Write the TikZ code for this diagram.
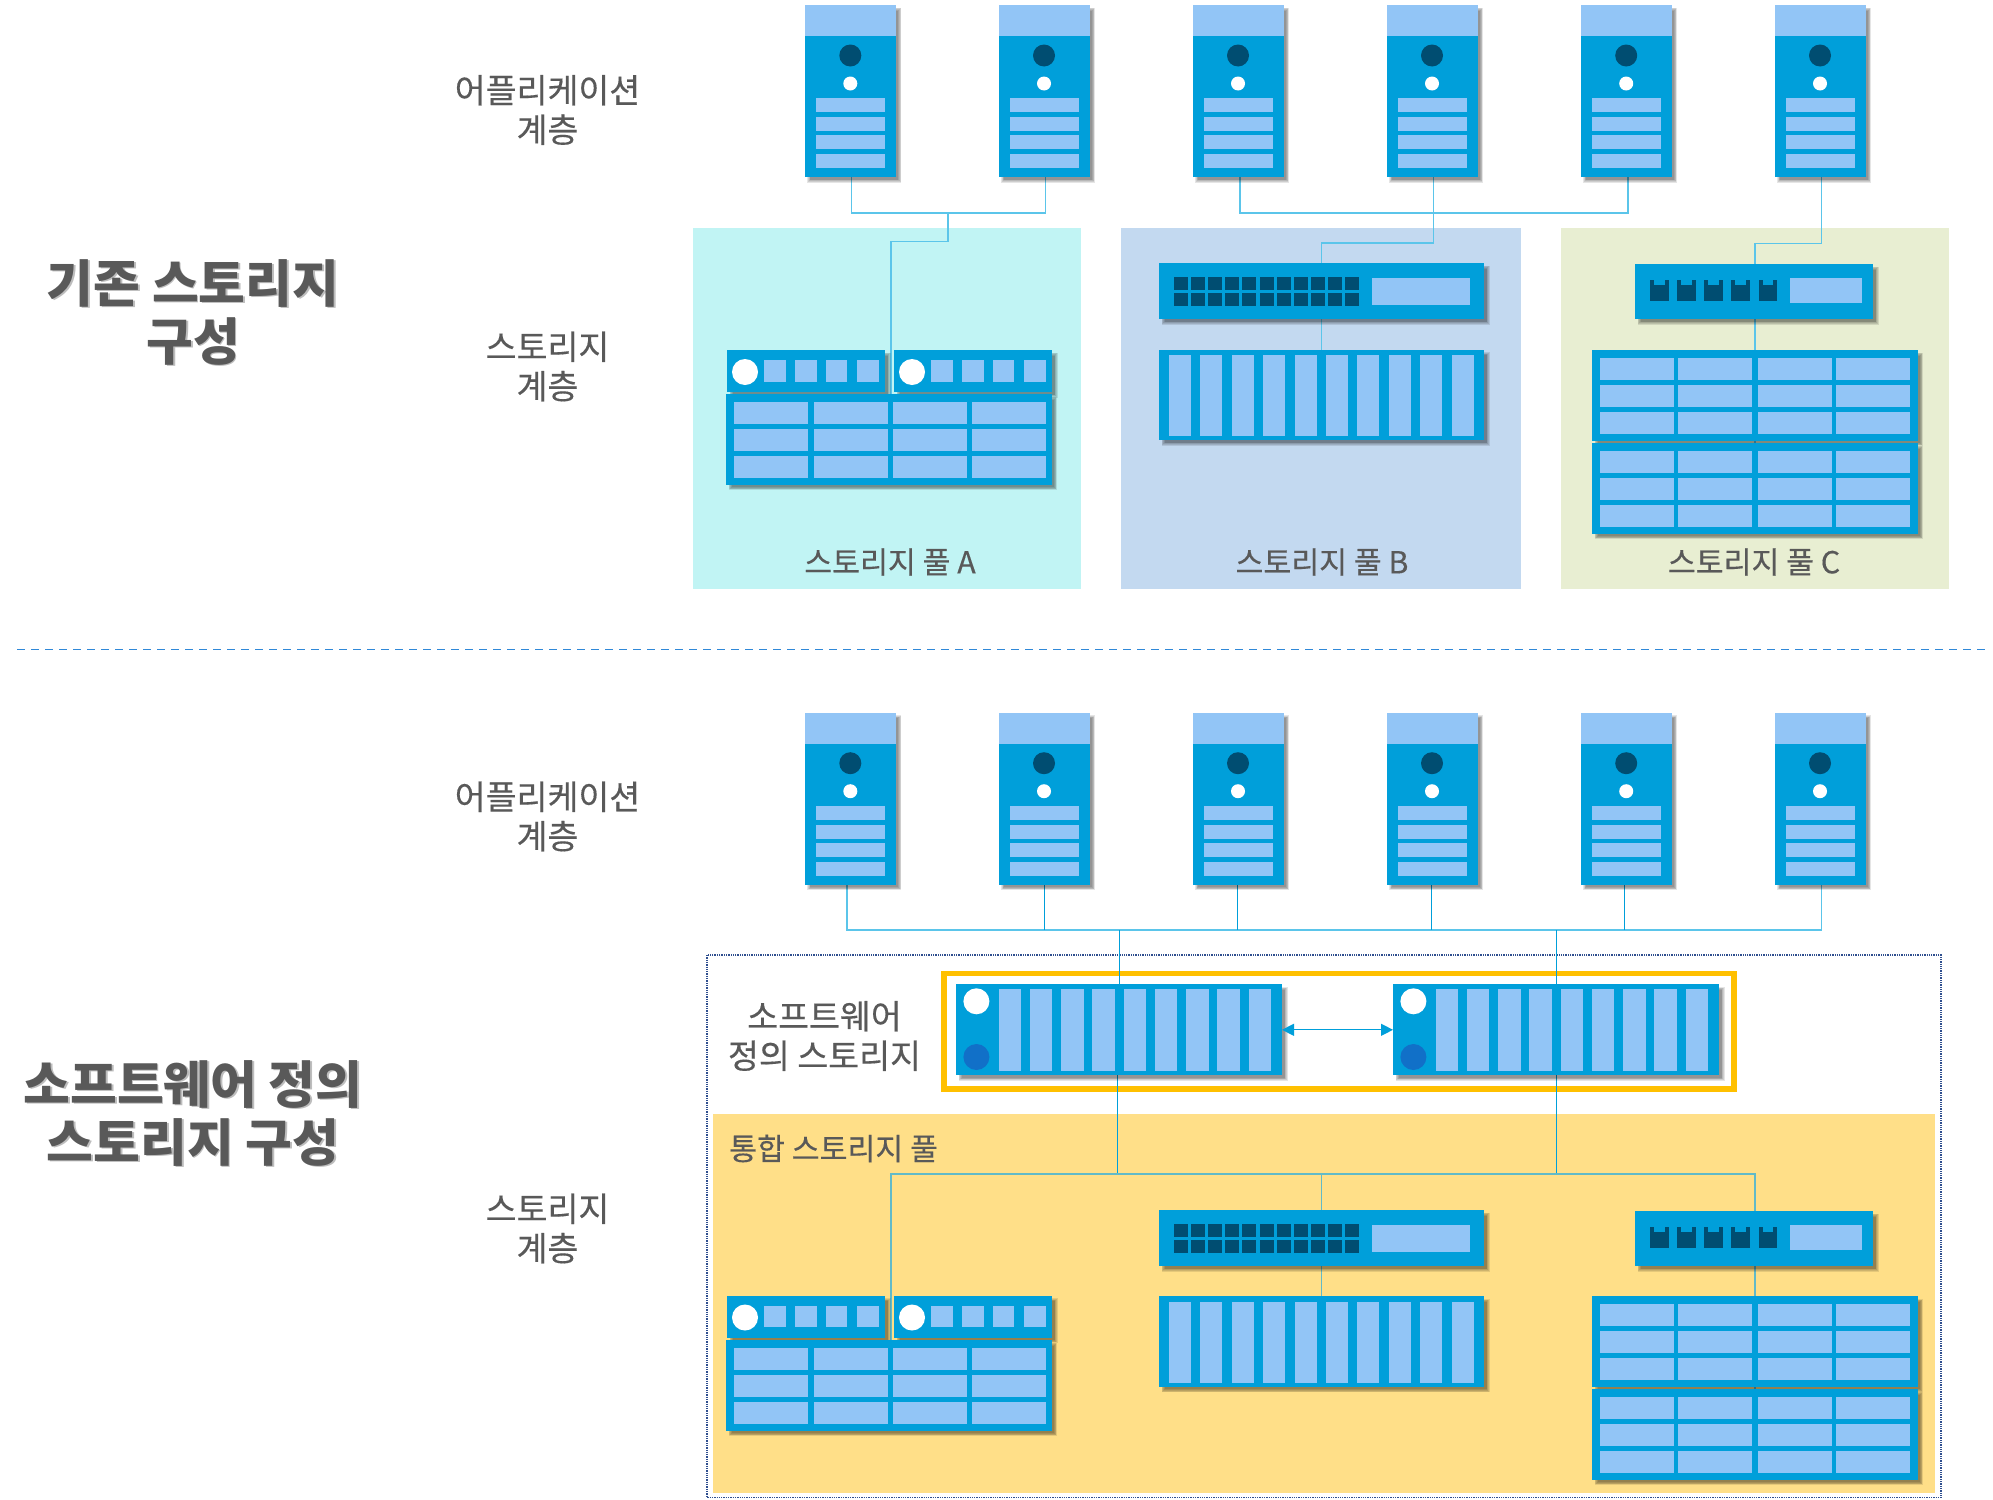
\documentclass[tikz,border=0pt]{standalone}
\usepackage{fontspec}
\setmainfont{Noto Sans CJK KR}
\newfontfamily\medfont{Noto Sans CJK KR}[FakeBold=0.35]
\usetikzlibrary{arrows.meta}
\definecolor{devblue}{HTML}{009FDA}
\definecolor{barblue}{HTML}{92C5F6}
\definecolor{darkport}{HTML}{004D71}
\definecolor{ledblue}{HTML}{1170C8}
\definecolor{poolA}{HTML}{C1F4F4}
\definecolor{poolB}{HTML}{C3D9F0}
\definecolor{poolC}{HTML}{E8EED2}
\definecolor{poolY}{HTML}{FFDF88}
\definecolor{frameY}{HTML}{FFC000}
\definecolor{txt}{HTML}{595959}
\definecolor{busc}{HTML}{5BC5EA}
\definecolor{busd}{HTML}{62BAC8}
\definecolor{framec}{HTML}{2F4F8F}
\definecolor{dashc}{HTML}{2F88D8}
\definecolor{shadegray}{HTML}{BDBDBD}
\newcommand{\shtext}[1]{\rlap{\kern1.8pt\raisebox{-1.8pt}{\textcolor{shadegray}{#1}}}#1}
\tikzset{
  devbox/.style={fill=devblue,draw=none,inner sep=0pt,outer sep=0pt,anchor=north west},
  pool/.style={draw=none,inner sep=0pt,outer sep=0pt,anchor=north west},
  lbl/.style={text=txt,align=center,inner sep=0pt,font=\fontsize{33.6}{39.5}\selectfont\medfont},
  plbl/.style={text=txt,inner sep=0pt,font=\fontsize{30.3}{36}\selectfont\medfont},
  ttl/.style={text=txt,align=center,inner sep=0pt,font=\fontsize{50.8}{58}\selectfont\bfseries},
  bus/.style={draw=busc,line width=1.5pt},
  busin/.style={draw=busd,line width=1.5pt},
  thin stem/.style={draw=devblue,line width=1pt},
  lt/.style={fill=barblue},
  dk/.style={fill=darkport},
}
% soft shadow of a W x H box at the scope origin
\newcommand{\softshadow}[2]{%
  \foreach \d in {1.5,0.75,0,-0.75,-1.5}{%
    \fill[black,opacity=.1] (4-\d,4-\d) rectangle (#1+4+\d,#2+4+\d);}}
\newcommand{\devnode}[3]{%
  \softshadow{#2}{#3}
  \node[devbox,minimum width=#2pt,minimum height=#3pt] (#1) at (0,0) {};}
\newcommand{\server}[3]{\begin{scope}[shift={(#2,#3)}]
  \devnode{#1}{91}{172}
  \fill[lt] (0,0) rectangle (91,31);
  \fill[dk] (45.5,50.5) circle (11);
  \fill[white] (45.5,78.5) circle (7);
  \foreach \y in {93,112,130,149}{\fill[lt] (11,\y) rectangle (80,\y+14);}
\end{scope}}
\newcommand{\cellgrid}[4]{\begin{scope}[shift={(#2,#3)}]
  \devnode{#1}{325.5}{90.5}
  \foreach \x in {#4}{\foreach \y in {7.5,35,62}{%
    \fill[lt] (\x,\y) rectangle (\x+74,\y+22);}}
\end{scope}}
\newcommand{\module}[3]{\begin{scope}[shift={(#2,#3)}]
  \devnode{#1}{158}{42}
  \fill[white] (18,22) circle (13);
  \foreach \x in {37,68,98.5,130}{\fill[lt] (\x,10) rectangle (\x+21.5,31.5);}
\end{scope}}
\newcommand{\bigswitch}[3]{\begin{scope}[shift={(#2,#3)}]
  \devnode{#1}{325}{56}
  \foreach \i in {0,...,10}{\foreach \y in {14,30}{%
    \fill[dk] (15+17.1*\i,\y) rectangle (29+17.1*\i,\y+13);}}
  \fill[lt] (213,15) rectangle (310.5,42);
\end{scope}}
\newcommand{\smallswitch}[3]{\begin{scope}[shift={(#2,#3)}]
  \devnode{#1}{238}{55}
  \foreach \x in {15,42,69,96,123.5}{%
    \fill[dk] (\x,16) rectangle (\x+18.5,37);
    \fill[devblue] (\x+4,16) rectangle (\x+14.5,21);}
  \fill[lt] (155,14) rectangle (227,39);
\end{scope}}
\newcommand{\barshelf}[3]{\begin{scope}[shift={(#2,#3)}]
  \devnode{#1}{325}{90.5}
  \foreach \i in {0,...,9}{\fill[lt] (10+31.4*\i,5.5) rectangle (32+31.4*\i,86.5);}
\end{scope}}
\newcommand{\controller}[3]{\begin{scope}[shift={(#2,#3)}]
  \devnode{#1}{326}{91}
  \fill[white] (20.4,17) circle (13);
  \fill[ledblue] (20.4,72.7) circle (13);
  \foreach \i in {0,...,8}{\fill[lt] (42.5+31.25*\i,4.5) rectangle (65+31.25*\i,87);}
\end{scope}}
\begin{document}
\begin{tikzpicture}[x=1pt,y=-1pt]
\useasboundingbox (0,0) rectangle (1993,1499);
\fill[white] (0,0) rectangle (1993,1499);

% ---- pools and frames
\node[pool,fill=poolA,minimum width=388pt,minimum height=361pt] (pa) at (693,228) {};
\node[pool,fill=poolB,minimum width=400pt,minimum height=361pt] (pb) at (1121,228) {};
\node[pool,fill=poolC,minimum width=388pt,minimum height=361pt] (pc) at (1561,228) {};
\node[pool,fill=poolY,minimum width=1222pt,minimum height=378.5pt] (py) at (713,1114) {};
\draw[frameY,line width=5.7pt] (944,973.5) rectangle (1734,1088.8);
\draw[framec,line width=1.3pt,densely dotted] (707,955) rectangle (1941,1497.5);

% ---- separator
\coordinate (sepl) at (17,649.5);
\coordinate (sepr) at (1986,649.5);
\draw[dashc,line width=1.8pt,dash pattern=on 8pt off 6pt] (sepl) -- (sepr);

% ---- labels
\node[ttl] (t1) at (193,313) {\shtext{기존 스토리지}\\\shtext{구성}};
\node[ttl] (t2) at (193,1114) {\shtext{소프트웨어 정의}\\\shtext{스토리지 구성}};
\node[lbl] (l1) at (547.5,110) {어플리케이션\\계층};
\node[lbl] (l2) at (547.5,366.5) {스토리지\\계층};
\node[lbl] (l3) at (547.5,816.5) {어플리케이션\\계층};
\node[lbl] (l4) at (547.5,1228.5) {스토리지\\계층};
\node[lbl] (l5) at (824.5,1036) {소프트웨어\\정의 스토리지};
\node[plbl] (p1) at (890,562) {스토리지 풀 A};
\node[plbl] (p2) at (1322,562) {스토리지 풀 B};
\node[plbl] (p3) at (1754,562) {스토리지 풀 C};
\node[plbl,anchor=west] (p4) at (729,1148.5) {통합 스토리지 풀};

% ---- routing points
\coordinate (ja) at (948,213);
\coordinate (ka) at (891,241.5);
\coordinate (jb) at (1433.5,213);
\coordinate (kb) at (1321.5,243);
\coordinate (kc) at (1755,243.5);
\coordinate (busy) at (0,930);
\coordinate (kl) at (891,1174);
\coordinate (kr) at (1755,1174);
\coordinate (km) at (1321.5,1174);

\foreach \n/\x in {1/804.8,2/998.5,3/1192.5,4/1386.5,5/1580.7,6/1774.5}{%
  \coordinate (cu\n) at (\x+45.5,177);
  \coordinate (cl\n) at (\x+45.5,885);
}
% connectors, upper
\draw[bus] ([xshift=1pt]cu1) -- ([xshift=1pt]cu1 |- ja) -- ([xshift=1.5pt]cu2 |- ja) -- ([xshift=1.5pt]cu2);
\draw[bus] (ja) -- (ja |- ka) -- (ka) -- (ka |- 0,394);
\draw[bus] ([xshift=2pt]cu3) -- ([xshift=2pt]cu3 |- jb) -- ([xshift=2pt]cu5 |- jb) -- ([xshift=2pt]cu5);
\draw[bus] ([xshift=1.5pt]cu4) -- (jb) -- (jb |- kb) -- (kb) -- (kb |- 0,350);
\draw[bus] ([xshift=1.5pt]cu6) -- ([xshift=1.5pt]cu6 |- kc) -- (kc) -- (kc |- 0,444);
% connectors, lower
\draw[bus] ([xshift=-3.5pt]cl1) -- ([xshift=-3.5pt]cl1 |- busy) -- ([xshift=1.5pt]cl6 |- busy) -- ([xshift=1.5pt]cl6);
\foreach \n/\s in {2/0.5,3/-1,4/-1,5/-1.5}{\draw[thin stem] ([xshift=\s pt]cl\n) -- ([xshift=\s pt]cl\n |- busy);}
\coordinate (c1top) at (1119.3,930); \coordinate (c2top) at (1556.5,930);
\draw[thin stem] (c1top) -- (1119.3,990);
\draw[thin stem] (c2top) -- (1556.5,990);
\draw[thin stem] (1117.5,1070) -- (1117.5,1174);
\draw[thin stem] (1556.5,1070) -- (1556.5,1174);
\draw[busin] (kl |- 0,1340) -- (kl) -- (kr) -- (kr |- 0,1390);
\draw[busin] (km) -- (km |- 0,1297);

% ---- servers
\foreach \n/\x in {1/804.8,2/998.5,3/1192.5,4/1386.5,5/1580.7,6/1774.5}{%
  \server{su\n}{\x}{5}
  \server{sl\n}{\x}{712.7}
}
% ---- upper storage
\module{mAa}{727}{350}
\module{mAb}{894}{350}
\cellgrid{gA}{726}{394}{8,88,166.5,246}
\bigswitch{swB}{1159}{263}
\barshelf{shB}{1159}{349.5}
\smallswitch{swC}{1635}{264}
\cellgrid{gCa}{1592}{350}{7.5,86,165.5,244}
\cellgrid{gCb}{1592}{443}{7.5,86,165.5,244}

% ---- lower storage
\controller{ctA}{956}{984.3}
\controller{ctB}{1393}{984.3}
\draw[devblue,line width=1.3pt,{Triangle[length=12pt,width=12pt]}-{Triangle[length=12pt,width=12pt]}] (ctA.east) -- (ctB.west);
\module{lAa}{727}{1295.5}
\module{lAb}{894}{1295.5}
\cellgrid{lgA}{726}{1340}{8,88,166.5,246}
\bigswitch{lswB}{1159}{1210}
\barshelf{lshB}{1159}{1296.3}
\smallswitch{lswC}{1635}{1211}
\cellgrid{lgCa}{1592}{1296.3}{7.5,86,165.5,244}
\cellgrid{lgCb}{1592}{1389}{7.5,86,165.5,244}
\end{tikzpicture}
\end{document}
